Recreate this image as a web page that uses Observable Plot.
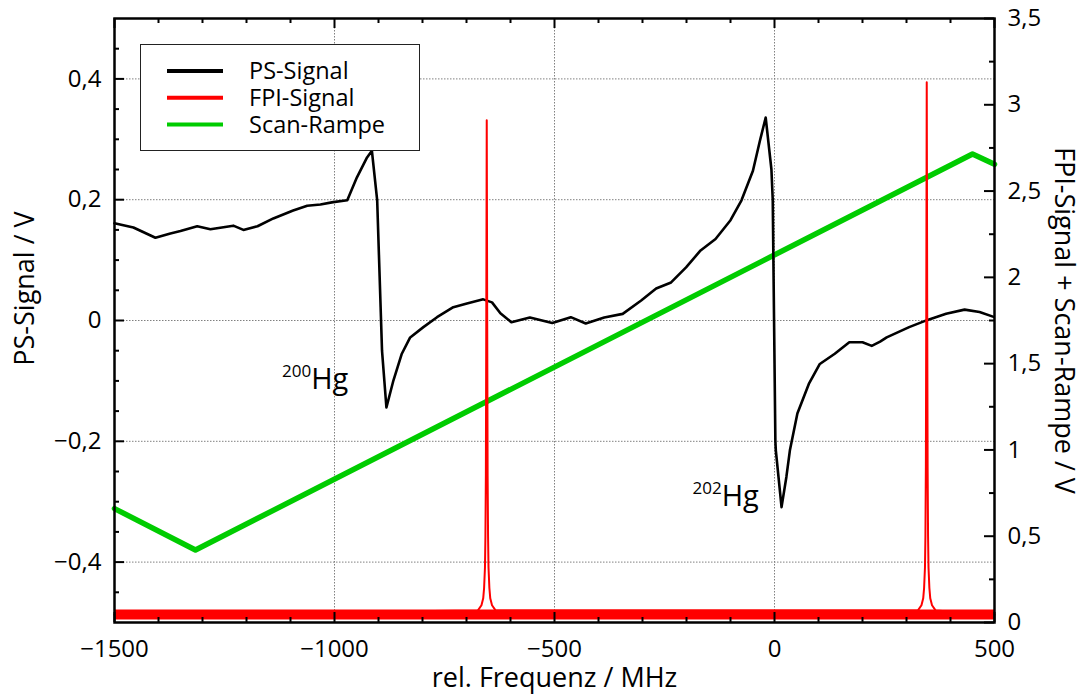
<!DOCTYPE html>
<html>
<head>
<meta charset="utf-8">
<script src="https://cdn.jsdelivr.net/npm/d3@7"></script>
<script src="https://cdn.jsdelivr.net/npm/@observablehq/plot@0.6"></script>
<style>
  html, body { margin: 0; padding: 0; background: #fff; }
  #chart { width: 1083px; height: 695px; }
</style>
</head>
<body>
<div id="chart"></div>
<script>
// ---------- data ----------
// PS-Signal (left axis, V)
const psFreq = [-1500,-1457,-1407,-1373,-1350,-1312,-1282,-1230,-1207,-1175,-1139,-1094,-1062,-1032,-1003,-971,-949,-926,-915,-903,-892,-882,-866,-847,-828,-798,-767,-730,-699,-662,-642,-623,-598,-556,-505,-463,-429,-387,-345,-303,-269,-235,-201,-168,-134,-100,-75,-49,-33,-20,-7,-4,-1,2,3,16,27,35,52,78,103,137,170,200,221,240,255,306,348,390,432,466,498];
const psValue = [0.161,0.154,0.137,0.144,0.148,0.156,0.151,0.157,0.150,0.156,0.169,0.182,0.190,0.192,0.196,0.199,0.237,0.270,0.281,0.199,-0.050,-0.144,-0.099,-0.055,-0.028,-0.011,0.0055,0.022,0.028,0.035,0.030,0.012,-0.003,0.005,-0.004,0.0055,-0.005,0.005,0.011,0.033,0.053,0.063,0.088,0.116,0.135,0.166,0.199,0.248,0.298,0.336,0.25,0.2,0.0,-0.2,-0.215,-0.309,-0.259,-0.215,-0.154,-0.105,-0.072,-0.055,-0.036,-0.036,-0.042,-0.035,-0.028,-0.011,0.001,0.011,0.018,0.014,0.006];

// FPI-Signal (right axis, V)
const fpiFreq = [-1500,-674,-666,-662,-660,-658,-657,-656,-655,-654,-653,-652,-651,-650,-648,-646,-642,-634,326,334,338,340,342,343,344,345,346,347,348,349,350,352,354,358,366,500];
const fpiValue = [0.045,0.07,0.10,0.14,0.2,0.32,0.5,0.85,1.8,2.91,1.8,0.85,0.5,0.32,0.2,0.14,0.10,0.07,0.07,0.10,0.14,0.2,0.32,0.5,0.9,1.9,3.13,1.9,0.9,0.5,0.32,0.2,0.14,0.10,0.07,0.045];
// FPI noise band (right axis, V)
const fpiNoiseFreq = [-1500, 500];
const fpiNoiseLow = [0.014, 0.014];
const fpiNoiseHigh = [0.072, 0.072];

// Scan-Rampe (right axis, V)
const rampFreq = [-1500, -1316, 450, 500];
const rampValue = [0.66, 0.42, 2.715, 2.655];

// ticks
const xMajor = [-1500, -1000, -500, 0, 500];
const xMinor = [-1400,-1300,-1200,-1100,-900,-800,-700,-600,-400,-300,-200,-100,100,200,300,400];
const xGrid = [-1000, -500, 0];
const yLeftMajor = [-0.4, -0.2, 0, 0.2, 0.4];
const yLeftMinor = [-0.45,-0.35,-0.3,-0.25,-0.15,-0.1,-0.05,0.05,0.1,0.15,0.25,0.3,0.35,0.45];
const yRightMajor = [0, 0.5, 1, 1.5, 2, 2.5, 3, 3.5];
const yRightMinor = [0.25, 0.75, 1.25, 1.75, 2.25, 2.75, 3.25];

// annotations
const isoMass = ["200", "202"];
const isoFreq = [-1053, -120];
const isoLevel = [-0.098, -0.292];

// legend
const legendNames = ["PS-Signal", "FPI-Signal", "Scan-Rampe"];
const legendColors = ["#000000", "#ff0000", "#00cc00"];

// ---------- helpers ----------
const rightMax = 3.5;
const toLeft = v => v / rightMax - 0.5;       // right-axis value -> left-axis value
const toRight = v => (v + 0.5) * rightMax;
const fmt = v => {
  const r = Math.round(v * 100) / 100;
  return (Object.is(r, -0) ? 0 : r).toString().replace(".", ",").replace("-", "\u2212");
};

const ps = psFreq.map((f, i) => ({f, v: psValue[i]}));
const fpi = fpiFreq.map((f, i) => ({f, v: toLeft(fpiValue[i])}));
const band = fpiNoiseFreq.map((f, i) => ({f, lo: toLeft(fpiNoiseLow[i]), hi: toLeft(fpiNoiseHigh[i])}));
const ramp = rampFreq.map((f, i) => ({f, v: toLeft(rampValue[i])}));
const iso = isoMass.map((m, i) => ({m, f: isoFreq[i], y: isoLevel[i]}));

const W = 1083, H = 695, ML = 114, MR = 89, MT = 18, MB = 73;
const FW = W - ML - MR, FH = H - MT - MB;
const tk = {stroke: "black", strokeWidth: 2};
// inward tick marks: rules across the frame, inset to the tick length
const xTicks = (vals, len, side) => Plot.ruleX(vals, {x: d => d, y1: 0.5, y2: -0.5, ...tk,
  ...(side === "bottom" ? {insetTop: FH - len} : {insetBottom: FH - len})});
const yTicks = (vals, len, side) => Plot.ruleY(vals, {y: d => d, x1: -1500, x2: 500, ...tk,
  ...(side === "left" ? {insetRight: FW - len} : {insetLeft: FW - len})});

const chart = Plot.plot({
  width: W,
  height: H,
  marginLeft: ML,
  marginRight: MR,
  marginTop: MT,
  marginBottom: MB,
  style: {fontFamily: "'Open Sans', 'Noto Sans', sans-serif", fontSize: "24px", color: "black", background: "white", overflow: "visible"},
  x: {domain: [-1500, 500]},
  y: {domain: [-0.5, 0.5]},
  marks: [
    // grid
    Plot.gridY(yLeftMajor, {stroke: "#808080", strokeOpacity: 1, strokeWidth: 1, strokeDasharray: "1.5,1.5"}),
    Plot.gridX(xGrid, {stroke: "#808080", strokeOpacity: 1, strokeWidth: 1, strokeDasharray: "1.5,1.5"}),
    // data
    Plot.line(ramp, {x: "f", y: "v", stroke: "#00cc00", strokeWidth: 5.5}),
    Plot.line(ps, {x: "f", y: "v", stroke: "black", strokeWidth: 2.6, strokeLinejoin: "round"}),
    Plot.areaY(band, {x: "f", y1: "lo", y2: "hi", fill: "#ff0000"}),
    Plot.line(fpi, {x: "f", y: "v", stroke: "#ff0000", strokeWidth: 2}),
    // annotations
    Plot.text(iso, {x: "f", y: "y", text: () => "Hg", textAnchor: "start", fontSize: 29}),
    Plot.text(iso, {x: "f", y: "y", text: "m", textAnchor: "end", fontSize: 17, dy: -8}),
    // frame
    Plot.frame({stroke: "black", strokeWidth: 2.5}),
    // inward ticks
    xTicks(xMinor, 5, "bottom"),
    xTicks(xMajor, 10, "bottom"),
    xTicks(xMinor, 5, "top"),
    xTicks(xMajor, 10, "top"),
    yTicks(yLeftMinor, 5, "left"),
    yTicks(yLeftMajor, 10, "left"),
    yTicks(yRightMinor.map(toLeft), 5, "right"),
    yTicks(yRightMajor.map(toLeft), 10, "right"),
    // tick labels
    Plot.axisX(xMajor, {anchor: "bottom", tickSize: 0, tickPadding: 17, tickFormat: fmt, label: null, fontSize: 24}),
    Plot.axisY(yLeftMajor, {anchor: "left", tickSize: 0, tickPadding: 13, tickFormat: fmt, label: null, fontSize: 24}),
    Plot.axisY(yRightMajor.map(toLeft), {anchor: "right", tickSize: 0, tickPadding: 13, tickFormat: d => fmt(toRight(d)), label: null, fontSize: 24}),
    // axis titles
    Plot.text(["rel. Frequenz / MHz"], {frameAnchor: "bottom", textAnchor: "middle", lineAnchor: "middle", dy: 56, fontSize: 27, text: d => d}),
    Plot.text(["PS-Signal / V"], {frameAnchor: "left", textAnchor: "middle", lineAnchor: "middle", rotate: -90, dx: -89, dy: -32, fontSize: 27, text: d => d}),
    Plot.text(["FPI-Signal + Scan-Rampe / V"], {frameAnchor: "right", textAnchor: "middle", lineAnchor: "middle", rotate: 90, dx: 69, fontSize: 27, text: d => d})
  ]
});

document.getElementById("chart").appendChild(chart);

// legend box
const svg = d3.select(chart);
const lg = svg.append("g").attr("class", "legend");
lg.append("rect")
  .attr("x", 140.5).attr("y", 44.5).attr("width", 279).attr("height", 106)
  .attr("fill", "white").attr("stroke", "#222").attr("stroke-width", 1);
legendNames.forEach((name, i) => {
  const yy = 71 + i * 26.7;
  lg.append("line").attr("x1", 167).attr("x2", 223).attr("y1", yy).attr("y2", yy)
    .attr("stroke", legendColors[i]).attr("stroke-width", 4);
  lg.append("text").attr("x", 249).attr("y", yy).attr("dy", "0.35em")
    .attr("text-anchor", "start").attr("font-size", 23.5).attr("fill", "black").text(name);
});
</script>
</body>
</html>
